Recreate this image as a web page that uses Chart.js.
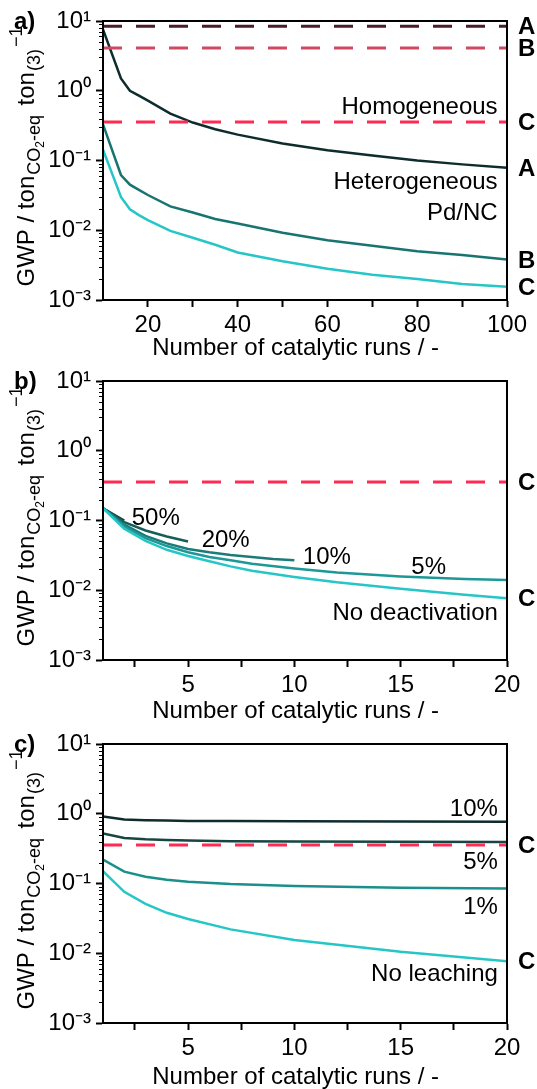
<!DOCTYPE html>
<html>
<head>
<meta charset="utf-8">
<script src="https://cdn.jsdelivr.net/npm/chart.js@4.4.0/dist/chart.umd.min.js"></script>
<style>
  html, body { margin: 0; padding: 0; background: #fff; }
  #page { position: relative; width: 537px; height: 1089px; }
  .panel { position: absolute; left: 0; width: 537px; }
</style>
</head>
<body>
<div id="page">
  <div class="panel" style="top:0;height:360px"><canvas id="chart-a"></canvas></div>
  <div class="panel" style="top:360px;height:363px"><canvas id="chart-b"></canvas></div>
  <div class="panel" style="top:723px;height:366px"><canvas id="chart-c"></canvas></div>
</div>
<script>
const FONT = "'Liberation Sans', Arial, Helvetica, sans-serif";
Chart.defaults.font.family = FONT;
Chart.defaults.color = '#000';

// y axis (shared by all panels)
const decadeTicks = [0.001, 0.01, 0.1, 1, 10];
const decadeLabels = ['10⁻³', '10⁻²', '10⁻¹', '10⁰', '10¹'];

// panel a: GWP vs number of runs, Pd/NC in three scenarios
const runsA = [10, 14, 16, 18, 20, 25, 30, 35, 40, 50, 60, 70, 80, 90, 100];
const pdncA = [7.6, 1.5, 1.0, 0.85, 0.72, 0.47, 0.35, 0.28, 0.235, 0.175, 0.14, 0.118, 0.1, 0.088, 0.079];
const pdncB = [0.33, 0.062, 0.045, 0.038, 0.032, 0.022, 0.018, 0.0145, 0.0125, 0.0092, 0.0072, 0.006, 0.005, 0.0044, 0.0038];
const pdncC = [0.143, 0.03, 0.02, 0.0165, 0.014, 0.0098, 0.0078, 0.0062, 0.0048, 0.0036, 0.0028, 0.0023, 0.002, 0.0017, 0.00155];
const homogeneousA = [8.4, 4.1, 0.356]; // scenarios A, B, C
const xTicksA = [20, 30, 40, 50, 60, 70, 80, 90, 100];
const xLabelsA = [20, 40, 60, 80, 100];

// panel b: deactivation per run
const runs50 = [1, 2];
const deact50 = [0.15, 0.1];
const runs20 = [1, 2, 3, 4, 5];
const deact20 = [0.15, 0.095, 0.072, 0.059, 0.05];
const runs10 = [1, 2, 3, 4, 5, 6, 7, 8, 9, 10];
const deact10 = [0.15, 0.087, 0.06, 0.047, 0.039, 0.035, 0.032, 0.03, 0.028, 0.027];
const runs5 = [1, 2, 3, 4, 5, 6, 7, 8, 10, 12, 15, 18, 20];
const deact5 = [0.15, 0.082, 0.056, 0.043, 0.035, 0.03, 0.027, 0.024, 0.0205, 0.018, 0.0158, 0.0145, 0.014];
const runsNone = [1, 2, 3, 4, 5, 6, 7, 8, 10, 12, 15, 18, 20];
const noDeact = [0.15, 0.076, 0.051, 0.038, 0.031, 0.026, 0.022, 0.019, 0.0155, 0.013, 0.0105, 0.0086, 0.0077];
const homogeneousC = 0.356;
const xTicksBC = [2.5, 5, 7.5, 10, 12.5, 15, 17.5, 20];
const xLabelsBC = [5, 10, 15, 20];

// panel c: Pd leaching per run
const runsLeach = [1, 2, 3, 4, 5, 7, 10, 15, 20];
const leach10 = [0.91, 0.83, 0.81, 0.8, 0.79, 0.785, 0.78, 0.775, 0.77];
const leach5 = [0.52, 0.45, 0.43, 0.42, 0.415, 0.405, 0.4, 0.397, 0.395];
const leach1 = [0.22, 0.148, 0.125, 0.113, 0.106, 0.098, 0.092, 0.087, 0.085];
const noLeach = [0.15, 0.076, 0.051, 0.038, 0.031, 0.022, 0.0155, 0.0105, 0.0077];

const DARK = '#0f2c2c';
const CYAN = '#26c6c6';
const DASH = [19, 14];

function series(xs, ys, color, width, dash) {
  return {
    data: xs.map((x, i) => ({ x: x, y: ys[i] })),
    borderColor: color,
    borderWidth: width || 2.5,
    borderDash: dash || [],
    pointRadius: 0,
    tension: 0,
    fill: false
  };
}

function level(xMin, xMax, value, color) {
  return series([xMin, xMax], [value, value], color, 3, DASH);
}

// y title with sub/superscripts, panel letter, notes, end letters, minor ticks and frame
const panelDecor = {
  id: 'panelDecor',
  afterDatasetsDraw(chart, args, opts) {
    const ctx = chart.ctx;
    const a = chart.chartArea;
    const xs = chart.scales.x;
    const ys = chart.scales.y;
    ctx.save();

    ctx.strokeStyle = '#000';
    ctx.lineWidth = 2;
    ctx.strokeRect(a.left, a.top, a.right - a.left, a.bottom - a.top);

    ctx.lineWidth = 1.2;
    ctx.beginPath();
    for (let d = 0.001; d < 10; d *= 10) {
      for (let k = 2; k <= 9; k++) {
        const py = Math.round(ys.getPixelForValue(k * d)) + 0.5;
        ctx.moveTo(a.left - 4, py);
        ctx.lineTo(a.left, py);
      }
    }
    ctx.stroke();

    ctx.fillStyle = '#000';
    ctx.textBaseline = 'alphabetic';
    ctx.font = 'bold 24px ' + FONT;
    ctx.textAlign = 'left';
    ctx.fillText(opts.panel, 14, a.top + 8);

    ctx.textBaseline = 'middle';
    (opts.ends || []).forEach(e => {
      ctx.fillText(e.text, a.right + 11, ys.getPixelForValue(e.value) + 1.5);
    });

    ctx.font = '24px ' + FONT;
    (opts.notes || []).forEach(n => {
      ctx.textAlign = n.align || 'left';
      ctx.fillText(n.text, xs.getPixelForValue(n.x), ys.getPixelForValue(n.y));
    });

    // rotated y title
    const parts = [
      { t: 'GWP / ton', size: 24, dy: 0, gap: 1 },
      { t: 'CO', size: 18, dy: 6, gap: 0 },
      { t: '2', size: 12, dy: 10, gap: 0 },
      { t: '-eq', size: 18, dy: 6, gap: 3 },
      { t: ' ton', size: 24, dy: 0, gap: 1 },
      { t: '(3)', size: 18, dy: 6, gap: 2 },
      { t: '−1', size: 18, dy: -12, gap: 0 }
    ];
    let total = 0;
    parts.forEach(p => {
      ctx.font = p.size + 'px ' + FONT;
      p.w = ctx.measureText(p.t).width + p.gap;
      total += p.w;
    });
    ctx.translate(34, (a.top + a.bottom) / 2 - 4);
    ctx.rotate(-Math.PI / 2);
    ctx.textAlign = 'left';
    ctx.textBaseline = 'alphabetic';
    let px = -total / 2;
    parts.forEach(p => {
      ctx.font = p.size + 'px ' + FONT;
      ctx.fillText(p.t, px, p.dy);
      px += p.w;
    });
    ctx.restore();
  }
};

function makeChart(id, datasets, xMin, xMax, xTicks, xLabels, decor) {
  return new Chart(document.getElementById(id), {
    type: 'line',
    data: { datasets: datasets },
    plugins: [panelDecor],
    options: {
      responsive: true,
      maintainAspectRatio: false,
      animation: false,
      layout: { padding: { left: 0, right: 30, top: 21, bottom: 0 } },
      plugins: {
        legend: { display: false },
        tooltip: { enabled: false },
        panelDecor: decor
      },
      scales: {
        x: {
          type: 'linear',
          min: xMin,
          max: xMax,
          afterBuildTicks: s => { s.ticks = xTicks.map(v => ({ value: v })); },
          afterFit: s => { s.height = s.chart.height - 300; },
          grid: { drawOnChartArea: false, tickLength: 7, tickWidth: 2, tickColor: '#000' },
          border: { display: true, color: '#000', width: 2 },
          ticks: {
            padding: 4,
            maxRotation: 0,
            font: { size: 24 },
            callback: v => xLabels.includes(v) ? String(v) : ''
          },
          title: {
            display: true,
            text: 'Number of catalytic runs / -\u2002 ',
            font: { size: 24 },
            padding: { top: 0, bottom: -3 }
          }
        },
        y: {
          type: 'logarithmic',
          min: 0.001,
          max: 10,
          afterBuildTicks: s => { s.ticks = decadeTicks.map(v => ({ value: v })); },
          afterFit: s => { s.width = 103; },
          grid: { drawOnChartArea: false, tickLength: 7, tickWidth: 2, tickColor: '#000' },
          border: { display: true, color: '#000', width: 2 },
          ticks: {
            padding: 5,
            font: { size: 24 },
            callback: v => decadeLabels[decadeTicks.indexOf(v)]
          }
        }
      }
    }
  });
}

makeChart('chart-a', [
  level(10, 100, homogeneousA[0], '#4b1c2c'),
  level(10, 100, homogeneousA[1], '#cf4963'),
  level(10, 100, homogeneousA[2], '#ff2b52'),
  series(runsA, pdncA, DARK),
  series(runsA, pdncB, '#187470'),
  series(runsA, pdncC, CYAN)
], 10, 100, xTicksA, xLabelsA, {
  panel: 'a)',
  ends: [
    { text: 'A', value: homogeneousA[0] },
    { text: 'B', value: homogeneousA[1] },
    { text: 'C', value: homogeneousA[2] },
    { text: 'A', value: pdncA[pdncA.length - 1] },
    { text: 'B', value: pdncB[pdncB.length - 1] },
    { text: 'C', value: pdncC[pdncC.length - 1] }
  ],
  notes: [
    { text: 'Homogeneous', x: 97.9, y: 0.57, align: 'right' },
    { text: 'Heterogeneous', x: 97.9, y: 0.049, align: 'right' },
    { text: 'Pd/NC', x: 97.9, y: 0.0177, align: 'right' }
  ]
});

makeChart('chart-b', [
  level(1, 20, homogeneousC, '#ff2b52'),
  series(runsNone, noDeact, CYAN),
  series(runs5, deact5, '#1c9896'),
  series(runs10, deact10, '#1a7b78'),
  series(runs20, deact20, '#165e5b'),
  series(runs50, deact50, '#123f3d')
], 1, 20, xTicksBC, xLabelsBC, {
  panel: 'b)',
  ends: [
    { text: 'C', value: homogeneousC },
    { text: 'C', value: noDeact[noDeact.length - 1] }
  ],
  notes: [
    { text: '50%', x: 2.35, y: 0.109 },
    { text: '20%', x: 5.64, y: 0.0525 },
    { text: '10%', x: 10.4, y: 0.030 },
    { text: '5%', x: 15.5, y: 0.0216 },
    { text: 'No deactivation', x: 19.57, y: 0.0047, align: 'right' }
  ]
});

makeChart('chart-c', [
  level(1, 20, homogeneousC, '#ff2b52'),
  series(runsLeach, noLeach, CYAN),
  series(runsLeach, leach1, '#1a8f8b'),
  series(runsLeach, leach5, '#174542'),
  series(runsLeach, leach10, DARK)
], 1, 20, xTicksBC, xLabelsBC, {
  panel: 'c)',
  ends: [
    { text: 'C', value: homogeneousC },
    { text: 'C', value: noLeach[noLeach.length - 1] }
  ],
  notes: [
    { text: '10%', x: 19.57, y: 1.17, align: 'right' },
    { text: '5%', x: 19.57, y: 0.203, align: 'right' },
    { text: '1%', x: 19.57, y: 0.046, align: 'right' },
    { text: 'No leaching', x: 19.57, y: 0.0049, align: 'right' }
  ]
});
</script>
</body>
</html>
